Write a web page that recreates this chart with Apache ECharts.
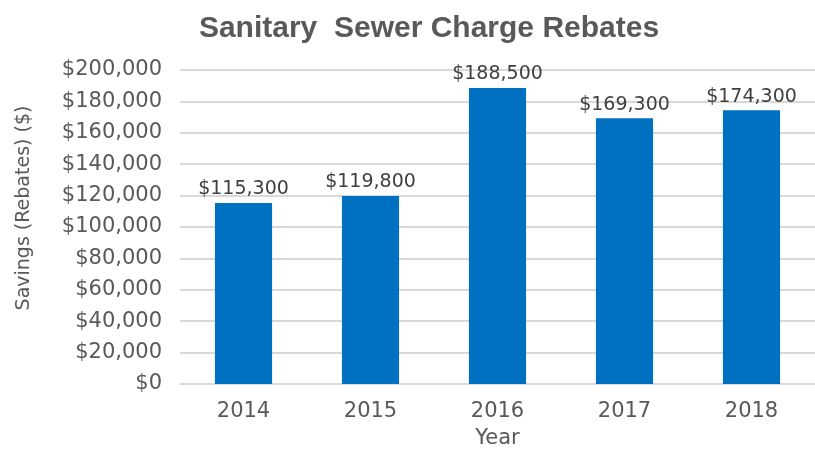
<!DOCTYPE html>
<html><head><meta charset="utf-8">
<script src="https://cdn.jsdelivr.net/npm/echarts@6/dist/echarts.min.js"></script>
<style>html,body{margin:0;padding:0;background:#fff}#c{width:815px;height:454px}</style>
</head><body><div id="c"></div>
<script>
const years = ['2014','2015','2016','2017','2018'];
const rebates = [115300, 119800, 188500, 169300, 174300];
const yMin = 0, yMax = 200000, yStep = 20000;
const fmt = v => '$' + v.toLocaleString('en-US');
const F = 'DejaVu Sans';
const chart = echarts.init(document.getElementById('c'));
chart.setOption({
  animation: false,
  title: {
    text: 'Sanitary  Sewer Charge Rebates',
    left: 424, top: 9, textAlign: 'center',
    textStyle: {fontFamily: 'Liberation Sans', fontWeight: 'bold', fontSize: 30, color: '#595959'}
  },
  grid: {left: 180, right: 0, top: 70, bottom: 70},
  xAxis: {
    type: 'category', data: years,
    name: 'Year', nameLocation: 'middle', nameGap: 44,
    nameTextStyle: {fontFamily: F, fontSize: 21, color: '#595959'},
    axisLine: {show: true, lineStyle: {color: '#d9d9d9', width: 1}},
    axisTick: {show: false},
    axisLabel: {fontFamily: F, fontSize: 21, color: '#595959', margin: 17}
  },
  yAxis: {
    type: 'value', min: yMin, max: yMax, interval: yStep,
    name: 'Savings (Rebates) ($)', nameLocation: 'middle', nameGap: 146, nameRotate: 90,
    nameTextStyle: {fontFamily: F, fontSize: 19, color: '#595959', padding: [0, 0, 0, 38]},
    axisLine: {show: false}, axisTick: {show: false},
    splitLine: {lineStyle: {color: '#d9d9d9', width: 2}},
    axisLabel: {fontFamily: F, fontSize: 21, color: '#595959', margin: 18, formatter: fmt}
  },
  series: [{
    type: 'bar', data: rebates, barWidth: '45%',
    itemStyle: {color: '#0070C0'},
    label: {show: true, position: 'top', distance: 4, formatter: p => fmt(p.value),
      fontFamily: F, fontSize: 19, color: '#404040'}
  }]
});
</script></body></html>
